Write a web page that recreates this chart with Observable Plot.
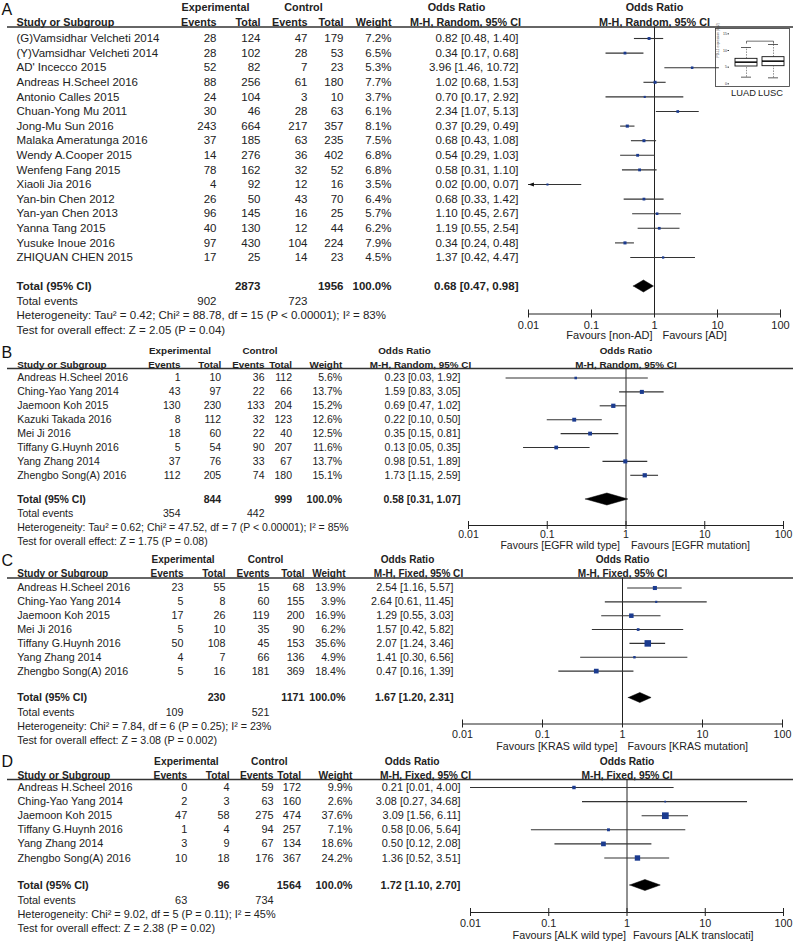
<!DOCTYPE html>
<html><head><meta charset="utf-8">
<script src="https://cdn.jsdelivr.net/npm/d3@7"></script>
<script src="https://cdn.jsdelivr.net/npm/@observablehq/plot@0.6"></script>
<style>
body{margin:0;background:#fff;}
#chart{position:relative;width:796px;height:942px;background:#fff;}
#chart svg{display:block;}
#inset{position:absolute;left:700px;top:26px;}
</style></head><body><div id="chart"><div id="inset"></div></div><script>
const FONT = "'Liberation Sans', Arial, Helvetica, sans-serif";
const tickValues = [0.01, 0.1, 1, 10, 100];
const tickLabels = ["0.01", "0.1", "1", "10", "100"];
const headerTop = ["Experimental", "Control", "Odds Ratio"];
const headerCols = ["Study or Subgroup", "Events", "Total", "Events", "Total", "Weight"];

// ---- Panel A ----
const aNames = ["(G)Vamsidhar Velcheti 2014","(Y)Vamsidhar Velcheti 2014","AD' Incecco 2015","Andreas H.Scheel 2016","Antonio Calles 2015","Chuan-Yong Mu 2011","Jong-Mu Sun 2016","Malaka Ameratunga 2016","Wendy A.Cooper 2015","Wenfeng Fang 2015","Xiaoli Jia 2016","Yan-bin Chen 2012","Yan-yan Chen 2013","Yanna Tang 2015","Yusuke Inoue 2016","ZHIQUAN CHEN 2015"];
const aExpEvents = [28,28,52,88,24,30,243,37,14,78,4,26,96,40,97,17];
const aExpTotal = [124,102,82,256,104,46,664,185,276,162,92,50,145,130,430,25];
const aCtrlEvents = [47,28,7,61,3,28,217,63,36,32,12,43,16,12,104,14];
const aCtrlTotal = [179,53,23,180,10,63,357,235,402,52,16,70,25,44,224,23];
const aWeight = [7.2,6.5,5.3,7.7,3.7,6.1,8.1,7.5,6.8,6.8,3.5,6.4,5.7,6.2,7.9,4.5];
const aOR = [0.82,0.34,3.96,1.02,0.70,2.34,0.37,0.68,0.54,0.58,0.02,0.68,1.10,1.19,0.34,1.37];
const aLo = [0.48,0.17,1.46,0.68,0.17,1.07,0.29,0.43,0.29,0.31,0.00,0.33,0.45,0.55,0.24,0.42];
const aHi = [1.40,0.68,10.72,1.53,2.92,5.13,0.49,1.08,1.03,1.10,0.07,1.42,2.67,2.54,0.48,4.47];
const aTotals = [2873, 1956, 100.0];
const aTotalEvents = [902, 723];
const aPooled = [0.68, 0.47, 0.98];
const aMethod = "M-H, Random, 95% CI";
const aHet = "Heterogeneity: Tau² = 0.42; Chi² = 88.78, df = 15 (P < 0.00001); I² = 83%";
const aTest = "Test for overall effect: Z = 2.05 (P = 0.04)";
const aFavours = ["Favours [non-AD]", "Favours [AD]"];

// ---- Panel B ----
const bNames = ["Andreas H.Scheel 2016","Ching-Yao Yang 2014","Jaemoon Koh 2015","Kazuki Takada 2016","Mei Ji 2016","Tiffany G.Huynh 2016","Yang Zhang 2014","Zhengbo Song(A) 2016"];
const bExpEvents = [1,43,130,8,18,5,37,112];
const bExpTotal = [10,97,230,112,60,54,76,205];
const bCtrlEvents = [36,22,133,32,22,90,33,74];
const bCtrlTotal = [112,66,204,123,40,207,67,180];
const bWeight = [5.6,13.7,15.2,12.6,12.5,11.6,13.7,15.1];
const bOR = [0.23,1.59,0.69,0.22,0.35,0.13,0.98,1.73];
const bLo = [0.03,0.83,0.47,0.10,0.15,0.05,0.51,1.15];
const bHi = [1.92,3.05,1.02,0.50,0.81,0.35,1.89,2.59];
const bTotals = [844, 999, 100.0];
const bTotalEvents = [354, 442];
const bPooled = [0.58, 0.31, 1.07];
const bMethod = "M-H, Random, 95% CI";
const bHet = "Heterogeneity: Tau² = 0.62; Chi² = 47.52, df = 7 (P < 0.00001); I² = 85%";
const bTest = "Test for overall effect: Z = 1.75 (P = 0.08)";
const bFavours = ["Favours [EGFR wild type]", "Favours [EGFR mutation]"];

// ---- Panel C ----
const cNames = ["Andreas H.Scheel 2016","Ching-Yao Yang 2014","Jaemoon Koh 2015","Mei Ji 2016","Tiffany G.Huynh 2016","Yang Zhang 2014","Zhengbo Song(A) 2016"];
const cExpEvents = [23,5,17,5,50,4,5];
const cExpTotal = [55,8,26,10,108,7,16];
const cCtrlEvents = [15,60,119,35,45,66,181];
const cCtrlTotal = [68,155,200,90,153,136,369];
const cWeight = [13.9,3.9,16.9,6.2,35.6,4.9,18.4];
const cOR = [2.54,2.64,1.29,1.57,2.07,1.41,0.47];
const cLo = [1.16,0.61,0.55,0.42,1.24,0.30,0.16];
const cHi = [5.57,11.45,3.03,5.82,3.46,6.56,1.39];
const cTotals = [230, 1171, 100.0];
const cTotalEvents = [109, 521];
const cPooled = [1.67, 1.20, 2.31];
const cMethod = "M-H, Fixed, 95% CI";
const cHet = "Heterogeneity: Chi² = 7.84, df = 6 (P = 0.25); I² = 23%";
const cTest = "Test for overall effect: Z = 3.08 (P = 0.002)";
const cFavours = ["Favours [KRAS wild type]", "Favours [KRAS mutation]"];

// ---- Panel D ----
const dNames = ["Andreas H.Scheel 2016","Ching-Yao Yang 2014","Jaemoon Koh 2015","Tiffany G.Huynh 2016","Yang Zhang 2014","Zhengbo Song(A) 2016"];
const dExpEvents = [0,2,47,1,3,10];
const dExpTotal = [4,3,58,4,9,18];
const dCtrlEvents = [59,63,275,94,67,176];
const dCtrlTotal = [172,160,474,257,134,367];
const dWeight = [9.9,2.6,37.6,7.1,18.6,24.2];
const dOR = [0.21,3.08,3.09,0.58,0.50,1.36];
const dLo = [0.01,0.27,1.56,0.06,0.12,0.52];
const dHi = [4.00,34.68,6.11,5.64,2.08,3.51];
const dTotals = [96, 1564, 100.0];
const dTotalEvents = [63, 734];
const dPooled = [1.72, 1.10, 2.70];
const dMethod = "M-H, Fixed, 95% CI";
const dHet = "Heterogeneity: Chi² = 9.02, df = 5 (P = 0.11); I² = 45%";
const dTest = "Test for overall effect: Z = 2.38 (P = 0.02)";
const dFavours = ["Favours [ALK wild type]", "Favours [ALK translocati]"];

// ---- Inset box plot ----
const insetGroups = ["LUAD", "LUSC"];
const insetMin = [2.0, 1.8];
const insetQ1 = [5.2, 5.3];
const insetMedian = [6.5, 6.8];
const insetQ3 = [7.5, 8.0];
const insetMax = [10.9, 11.8];
const insetTicks = [0, 5, 10, 15];
const insetBracket = [12.2, 12.8];

// ---- layout (pixels) ----
const layouts = {
  A: {top:0, height:342, x0:528, x1:780, row0:38, step:14.6, font:11.5, tickFont:11, letterY:9, hdr1:7, hdr2:22.5, underline:26.5, total:286, events:301, het:315, test:329.5, axis:313.5, tickLbl:324.5, fav:335, favDxL:-2, favDxR:8, diamondH:6, cName:16, cEE:216, cET:260, cCE:307, cCT:343, cW:391, cOR:518, hdrExp:215, hdrCtrl:303, hdrOR:456, hdrMeth:465},
  B: {top:342, height:209, x0:468, x1:783, row0:377.5, step:13.9, font:10.5, tickFont:10.5, letterY:352, hdr1:350.5, hdr2:364.5, underline:368, total:499, events:513.5, het:527.5, test:541.5, axis:525, tickLbl:534.5, fav:545.5, favDxL:-6, favDxR:5, diamondH:6, cName:16.7, cEE:180, cET:220.7, cCE:264, cCT:291.5, cW:341.7, cOR:460, hdrExp:179.5, hdrCtrl:259.5, hdrOR:404, hdrMeth:420},
  C: {top:551, height:200, x0:462, x1:782, row0:587.5, step:13.85, font:10.7, tickFont:10.7, letterY:560, hdr1:559, hdr2:573.5, underline:577.5, total:697.5, events:712, het:726, test:740.5, axis:723.5, tickLbl:734.5, fav:746, favDxL:-5, favDxR:5, diamondH:5, cName:16.7, cEE:183, cET:225, cCE:269, cCT:304, cW:345, cOR:453, hdrExp:182.5, hdrCtrl:265, hdrOR:407, hdrMeth:418},
  D: {top:751, height:191, x0:470, x1:783, row0:787, step:14.1, font:10.9, tickFont:10.8, letterY:761, hdr1:761, hdr2:775.5, underline:779, total:885, events:899.5, het:913.5, test:928, axis:912, tickLbl:923.5, fav:935, favDxL:-1, favDxR:6, diamondH:5.5, cName:17, cEE:186.7, cET:229, cCE:273, cCT:300.5, cW:352, cOR:460, hdrExp:185.8, hdrCtrl:268.8, hdrOR:411.7, hdrMeth:425}
};

const TEXT = "#222";
const SQUARE = "#1b3b8f";
const f2 = v => v.toFixed(2);
const orLabel = (o, l, h) => `${f2(o)} [${f2(l)}, ${f2(h)}]`;

// left-pointing arrowhead (tip at the anchor point)
const arrowLeft = {draw(ctx, size) {const s = Math.sqrt(size); ctx.moveTo(0, 0); ctx.lineTo(s * 1.4, -s / 2); ctx.lineTo(s * 1.4, s / 2); ctx.closePath();}};

function forest(p, L) {
  const n = p.names.length;
  const rows = d3.range(n).map(i => ({i, name: p.names[i], ee: p.expEvents[i], et: p.expTotal[i], ce: p.ctrlEvents[i], ct: p.ctrlTotal[i], w: p.weight[i], or: p.or[i], lo: p.lo[i], hi: p.hi[i]}));
  const R = px => (px - L.row0) / L.step;
  const at = px => () => R(px);
  const fs = L.font;
  const hfs = +(fs * 0.94).toFixed(2);
  const bold = {fontWeight: "bold"};
  const hdr = {fontWeight: "bold", fontSize: hfs};
  const txt = (data, text, dx, anchor, y, extra = {}) =>
    Plot.text(data, {frameAnchor: "left", y, text, dx, textAnchor: anchor, fontSize: fs, fill: TEXT, ...extra});
  const one = [0];
  const tRow = R(L.total);
  const h = L.diamondH / L.step;
  const [est, plo, phi] = p.pooled;
  const diamond = [{x: plo, y1: tRow, y2: tRow}, {x: est, y1: tRow - h, y2: tRow + h}, {x: phi, y1: tRow, y2: tRow}];
  const axisR = R(L.axis);
  const tk = 4 / L.step;

  const marks = [
    // panel letter
    txt([p.letter], d => d, 1, "start", at(L.letterY), {fontSize: 16, fill: "#111"}),
    // header row 1
    txt([headerTop[0]], d => d, L.hdrExp, "middle", at(L.hdr1), hdr),
    txt([headerTop[1]], d => d, L.hdrCtrl, "middle", at(L.hdr1), hdr),
    txt([headerTop[2]], d => d, L.hdrOR, "middle", at(L.hdr1), hdr),
    Plot.text([headerTop[2]], {x: () => 1, y: at(L.hdr1), text: d => d, fontSize: hfs, fontWeight: "bold", fill: TEXT}),
    // header row 2
    txt([headerCols[0]], d => d, L.cName, "start", at(L.hdr2), hdr),
    txt([headerCols[1]], d => d, L.cEE, "end", at(L.hdr2), hdr),
    txt([headerCols[2]], d => d, L.cET, "end", at(L.hdr2), hdr),
    txt([headerCols[3]], d => d, L.cCE, "end", at(L.hdr2), hdr),
    txt([headerCols[4]], d => d, L.cCT, "end", at(L.hdr2), hdr),
    txt([headerCols[5]], d => d, L.cW, "end", at(L.hdr2), hdr),
    txt([p.method], d => d, L.hdrMeth, "middle", at(L.hdr2), hdr),
    Plot.text([p.method], {x: () => 1, y: at(L.hdr2), text: d => d, fontSize: hfs, fontWeight: "bold", fill: TEXT}),
    // header underline
    Plot.ruleY(one, {y: at(L.underline), insetLeft: 7, insetRight: 3, stroke: "#333", strokeWidth: 1.3}),
    // study rows
    txt(rows, "name", L.cName, "start", "i"),
    txt(rows, d => String(d.ee), L.cEE, "end", "i"),
    txt(rows, d => String(d.et), L.cET, "end", "i"),
    txt(rows, d => String(d.ce), L.cCE, "end", "i"),
    txt(rows, d => String(d.ct), L.cCT, "end", "i"),
    txt(rows, d => d.w.toFixed(1) + "%", L.cW, "end", "i"),
    txt(rows, d => orLabel(d.or, d.lo, d.hi), L.cOR, "end", "i"),
    // total row
    txt(["Total (95% CI)"], d => d, L.cName, "start", at(L.total), bold),
    txt([p.totals[0]], d => String(d), L.cET, "end", at(L.total), bold),
    txt([p.totals[1]], d => String(d), L.cCT, "end", at(L.total), bold),
    txt([p.totals[2]], d => d.toFixed(1) + "%", L.cW, "end", at(L.total), bold),
    txt([p.pooled], d => orLabel(d[0], d[1], d[2]), L.cOR, "end", at(L.total), bold),
    // total events
    txt(["Total events"], d => d, L.cName, "start", at(L.events)),
    txt([p.totalEvents[0]], d => String(d), L.cEE, "end", at(L.events)),
    txt([p.totalEvents[1]], d => String(d), L.cCE, "end", at(L.events)),
    txt([p.het], d => d, L.cName, "start", at(L.het)),
    txt([p.test], d => d, L.cName, "start", at(L.test)),
    // reference line at OR = 1
    Plot.ruleX([1], {x: d => d, y1: at(L.underline), y2: () => axisR, stroke: "#222", strokeWidth: 1}),
    // confidence intervals
    Plot.ruleY(rows, {y: "i", x1: d => Math.max(d.lo, 0.01), x2: d => Math.min(d.hi, 100), stroke: "#333", strokeWidth: 1.1}),
    Plot.dot(rows.filter(d => d.lo < 0.01), {x: () => 0.01, y: "i", symbol: arrowLeft, r: 2.2, fill: "#111", stroke: "none"}),
    Plot.dot(rows, {x: "or", y: "i", r: "w", symbol: "square", fill: SQUARE, stroke: "none"}),
    // pooled diamond
    Plot.areaY(diamond, {x: "x", y1: "y1", y2: "y2", fill: "#000", stroke: "#000", strokeWidth: 0.5}),
    // axis
    Plot.ruleY(one, {y: () => axisR, x1: () => 0.01, x2: () => 100, stroke: "#222", strokeWidth: 1}),
    Plot.ruleX(tickValues, {x: d => d, y1: () => axisR - tk, y2: () => axisR + tk, stroke: "#222", strokeWidth: 1}),
    Plot.text(tickValues, {x: d => d, y: at(L.tickLbl), text: (d, i) => tickLabels[i], fontSize: L.tickFont, fill: TEXT}),
    Plot.text([p.favours[0]], {x: () => 1, y: at(L.fav), text: d => d, textAnchor: "end", dx: L.favDxL, fontSize: L.tickFont, fill: TEXT}),
    Plot.text([p.favours[1]], {x: () => 1, y: at(L.fav), text: d => d, textAnchor: "start", dx: L.favDxR, fontSize: L.tickFont, fill: TEXT})
  ];

  return Plot.plot({
    width: 796, height: L.height,
    marginLeft: 0, marginRight: 0, marginTop: 0, marginBottom: 0,
    x: {type: "log", domain: [0.01, 100], range: [L.x0, L.x1], axis: null},
    y: {domain: [0, 1], range: [L.row0 - L.top, L.row0 - L.top + L.step], axis: null},
    r: {type: "sqrt", domain: [0, 40], range: [0, 3.9]},
    style: {fontFamily: FONT, fontSize: fs + "px", color: TEXT, background: "transparent", overflow: "visible"},
    marks
  });
}

const panels = [
  {letter: "A", names: aNames, expEvents: aExpEvents, expTotal: aExpTotal, ctrlEvents: aCtrlEvents, ctrlTotal: aCtrlTotal, weight: aWeight, or: aOR, lo: aLo, hi: aHi, totals: aTotals, totalEvents: aTotalEvents, pooled: aPooled, method: aMethod, het: aHet, test: aTest, favours: aFavours},
  {letter: "B", names: bNames, expEvents: bExpEvents, expTotal: bExpTotal, ctrlEvents: bCtrlEvents, ctrlTotal: bCtrlTotal, weight: bWeight, or: bOR, lo: bLo, hi: bHi, totals: bTotals, totalEvents: bTotalEvents, pooled: bPooled, method: bMethod, het: bHet, test: bTest, favours: bFavours},
  {letter: "C", names: cNames, expEvents: cExpEvents, expTotal: cExpTotal, ctrlEvents: cCtrlEvents, ctrlTotal: cCtrlTotal, weight: cWeight, or: cOR, lo: cLo, hi: cHi, totals: cTotals, totalEvents: cTotalEvents, pooled: cPooled, method: cMethod, het: cHet, test: cTest, favours: cFavours},
  {letter: "D", names: dNames, expEvents: dExpEvents, expTotal: dExpTotal, ctrlEvents: dCtrlEvents, ctrlTotal: dCtrlTotal, weight: dWeight, or: dOR, lo: dLo, hi: dHi, totals: dTotals, totalEvents: dTotalEvents, pooled: dPooled, method: dMethod, het: dHet, test: dTest, favours: dFavours}
];

const chart = document.getElementById("chart");
for (const p of panels) chart.appendChild(forest(p, layouts[p.letter]));

// inset box plot
const box = insetGroups.map((g, i) => ({g, min: insetMin[i], q1: insetQ1[i], med: insetMedian[i], q3: insetQ3[i], max: insetMax[i]}));
const bracket = [
  {g: insetGroups[0], v: insetBracket[0]}, {g: insetGroups[0], v: insetBracket[1]},
  {g: insetGroups[1], v: insetBracket[1]}, {g: insetGroups[1], v: insetBracket[0]}
];
const inset = Plot.plot({
  width: 92, height: 73, marginLeft: 29, marginRight: 3, marginTop: 2, marginBottom: 13,
  x: {domain: insetGroups, padding: 0.2, axis: null},
  y: {domain: [-0.8, 16.6], ticks: insetTicks, tickSize: 1.5, tickPadding: 1, label: null},
  style: {fontFamily: FONT, fontSize: "3.5px", color: "#333", background: "transparent", overflow: "visible"},
  marks: [
    Plot.frame({insetLeft: -14, stroke: "#333", strokeWidth: 0.8}),
    Plot.ruleX(box, {x: "g", y1: "min", y2: "q1", stroke: "#444", strokeWidth: 0.6, strokeDasharray: "1.5,1.2"}),
    Plot.ruleX(box, {x: "g", y1: "q3", y2: "max", stroke: "#444", strokeWidth: 0.6, strokeDasharray: "1.5,1.2"}),
    Plot.tickY(box, {x: "g", y: "min", insetLeft: 6, insetRight: 6, stroke: "#333", strokeWidth: 0.8}),
    Plot.tickY(box, {x: "g", y: "max", insetLeft: 6, insetRight: 6, stroke: "#333", strokeWidth: 0.8}),
    Plot.barY(box, {x: "g", y1: "q1", y2: "q3", fill: "white", stroke: "#111", strokeWidth: 0.9}),
    Plot.tickY(box, {x: "g", y: "med", stroke: "#111", strokeWidth: 1.6}),
    Plot.line(bracket, {x: "g", y: "v", stroke: "#333", strokeWidth: 0.7}),
    Plot.text(insetGroups, {x: d => d, y: () => -2.9, text: d => d, fontSize: 9.3, fill: TEXT, dx: -3}),
    Plot.text(["PD-L1 expression (log2)"], {frameAnchor: "left", y: () => 7.9, rotate: -90, dx: -12, text: d => d, fontSize: 3.2, fill: "#444"})
  ]
});
document.getElementById("inset").appendChild(inset);
</script></body></html>
